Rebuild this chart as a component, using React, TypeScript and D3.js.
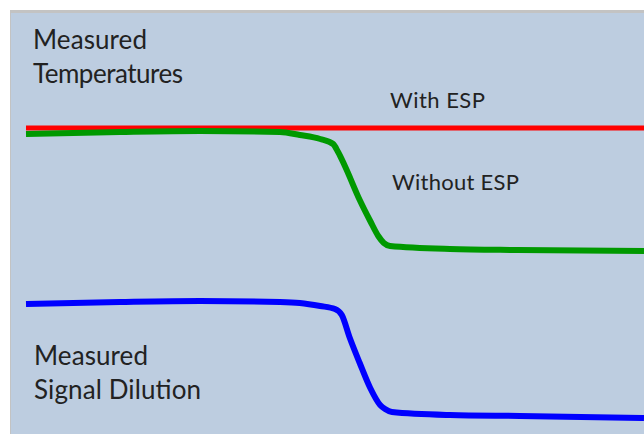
import React from 'react';
import { scaleLinear, line, curveMonotoneX } from 'd3';

const width = 644;
const height = 434;

// time (arbitrary units, 0..100) and signal level (arbitrary units)
const redTime = [0, 50, 100];
const redLevel = [306, 306, 306];

const greenTime = [0, 15.2, 28.2, 41.1, 44.3, 47.6, 49.7, 50.5, 51.6, 54.0, 55.7, 57.0, 57.9, 58.9, 68.6, 79.7, 100];
const greenLevel = [300, 302, 303, 302, 299, 295, 290, 282, 268, 234, 213, 198, 191, 188, 185, 184, 183];

const blueTime = [0, 15.2, 28.2, 41.1, 44.3, 47.6, 50.0, 51.1, 52.4, 54.0, 55.7, 57.3, 58.1, 59.2, 68.6, 79.9, 100];
const blueLevel = [130, 132, 133, 132, 131, 128, 125, 119, 96, 71, 46, 29, 25, 22, 19, 18, 16];

const series = [
  { name: 'With ESP', time: redTime, level: redLevel, color: '#ff0000', w: 5 },
  { name: 'Without ESP', time: greenTime, level: greenLevel, color: '#009900', w: 6 },
  { name: 'Signal Dilution', time: blueTime, level: blueLevel, color: '#0000ff', w: 6 },
];

const font = 'Lato, "Open Sans", sans-serif';

// label text with target widths
const labels = [
  { text: 'Measured', x: 33, y: 49, size: 26, len: 114 },
  { text: 'Temperatures', x: 33, y: 83, size: 26, len: 150 },
  { text: 'With ESP', x: 390, y: 108, size: 22, len: 95 },
  { text: 'Without ESP', x: 392, y: 190, size: 22, len: 127 },
  { text: 'Measured', x: 34, y: 365, size: 26, len: 114 },
  { text: 'Signal Dilution', x: 34, y: 399, size: 26, len: 167 },
];

const App = () => {
  const xScale = scaleLinear().domain([0, 100]).range([26, 644]);
  const yScale = scaleLinear().domain([0, 422]).range([434, 12]);

  const lineGen = line<[number, number]>()
    .x((d) => xScale(d[0]))
    .y((d) => yScale(d[1]))
    .curve(curveMonotoneX);

  return (
    <svg
      width={width}
      height={height}
      style={{ position: 'absolute', left: 0, top: 0, background: '#ffffff' }}
    >
      {/* panel with grey border top/left */}
      <rect x={10} y={10} width={width - 10} height={height - 10} fill="#c3c3c3" />
      <rect x={11} y={13} width={width - 11} height={height - 13} fill="#bdcde0" />

      {series.map((s) => (
        <path
          key={s.name}
          d={lineGen(s.time.map((t, i) => [t, s.level[i]]))}
          fill="none"
          stroke={s.color}
          strokeWidth={s.w}
        />
      ))}

      <g fill="#222" fontFamily={font}>
        {labels.map((l, i) => (
          <text key={i} x={l.x} y={l.y} fontSize={l.size} textLength={l.len} lengthAdjust="spacing">
            {l.text}
          </text>
        ))}
      </g>
    </svg>
  );
};

export default App;
